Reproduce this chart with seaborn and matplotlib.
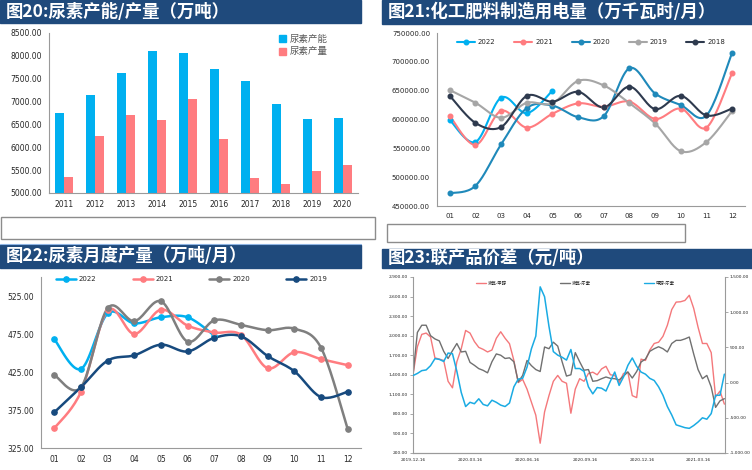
import matplotlib
matplotlib.use('Agg')
import matplotlib.pyplot as plt
import matplotlib.patches as mpatches
from matplotlib.lines import Line2D
from matplotlib.ticker import FuncFormatter
import matplotlib.dates as mdates
import seaborn as sns
import pandas as pd
import numpy as np

# ---- 数据 ----
years = ['2011', '2012', '2013', '2014', '2015', '2016', '2017', '2018', '2019', '2020']
capacity = [6740, 7140, 7630, 8100, 8065, 7705, 7455, 6950, 6615, 6630]
output = [5340, 6255, 6705, 6595, 7055, 6190, 5335, 5205, 5475, 5620]

months = ['01', '02', '03', '04', '05', '06', '07', '08', '09', '10', '11', '12']
power_2022 = [599000, 561000, 638000, 611000, 650000]
power_2021 = [606000, 556000, 615000, 586000, 610000, 628000, 622000, 631000, 601000, 619000, 586000, 681000]
power_2020 = [472000, 485000, 557000, 620000, 624000, 604000, 606000, 689000, 645000, 625000, 607000, 716000]
power_2019 = [651000, 629000, 603000, 629000, 628000, 667000, 659000, 628000, 593000, 545000, 561000, 615000]
power_2018 = [641000, 594000, 587000, 641000, 631000, 648000, 621000, 657000, 618000, 641000, 607000, 619000]

urea_2022 = [468, 429, 502, 489, 497, 497, 473]
urea_2021 = [351, 399, 506, 475, 507, 486, 477, 474, 430, 451, 442, 434]
urea_2020 = [421, 405, 509, 492, 518, 465, 493, 487, 480, 482, 457, 350]
urea_2019 = [372, 405, 440, 447, 461, 452, 470, 472, 446, 426, 392, 399]

# 周度数据，从 2019-12-16 起
spread_dates = pd.date_range('2019-12-16', periods=72, freq='7D')
nh3_meoh = [1400, 1830, 2020, 2040, 1980, 1660, 1640, 1620, 1300, 1200,
            1600, 1800, 2080, 2040, 1910, 1820, 1790, 1750, 1780, 1960,
            2060, 1960, 1877, 1620, 1280, 1330, 1180, 980, 780, 350,
            830, 1080, 1300, 1390, 1300, 1270, 810, 1180, 1340, 1300,
            1420, 1440, 1400, 1490, 1530, 1400, 1390, 1280, 1420, 1440,
            1080, 1050, 1640, 1620, 1780, 1880, 1900, 1990, 2160, 2400,
            2515, 2520, 2540, 2620, 2420, 2130, 1880, 1880, 1740, 1060,
            1150, 950]
nh3_urea = [1400, 2050, 2160, 2160, 2000, 1950, 1920, 1760, 1650, 1770,
            1880, 1750, 1760, 1590, 1545, 1494, 1468, 1430, 1600, 1720,
            1700, 1650, 1660, 1600, 1289, 1390, 1620, 1540, 1480, 1450,
            1826, 1800, 1900, 1840, 1600, 1380, 1400, 1740, 1600, 1470,
            1480, 1300, 1310, 1340, 1366, 1345, 1340, 1320, 1380, 1443,
            1350, 1450, 1596, 1640, 1760, 1800, 1830, 1800, 1750, 1880,
            1928, 1928, 1950, 1979, 1720, 1480, 1340, 1390, 1212, 900,
            1000, 1033]
meoh_urea = [100, 130, 170, 180, 240, 340, 330, 300, 420, 410,
             160, -140, -340, -280, -300, -230, -310, -330, -250, -280,
             -320, -340, -290, -60, 50, 60, 220, 480, 660, 1360,
             1220, 800, 440, 390, 360, 320, 470, 200, 200, 160,
             -60, -160, -70, -80, -120, 20, 150, -40, 80, 245,
             350, 230, 150, 120, 60, 30, -60, -180, -340, -460,
             -600, -620, -640, -650, -610, -560, -500, -520, -440, -180,
             -180, 120]

# ---- 样式 ----
W, H = 752, 470
HEAD = '#1F4A7C'
CYAN = '#00B0F0'
SALMON = '#FF7C80'
SPINE = '#9A9A9A'

sns.set_style('white')
plt.rcParams['font.family'] = ['DejaVu Sans', 'Noto Sans CJK SC']
plt.rcParams['axes.unicode_minus'] = False
CJK = ['Noto Sans CJK SC', 'DejaVu Sans']

fig = plt.figure(figsize=(W / 100, H / 100), dpi=100)


def box_axes(x0, y0, x1, y1):
    return fig.add_axes([x0 / W, 1 - y1 / H, (x1 - x0) / W, (y1 - y0) / H])


def header(x0, y0, x1, y1, text):
    fig.patches.append(mpatches.Rectangle((x0 / W, 1 - y1 / H), (x1 - x0) / W, (y1 - y0) / H,
                                          transform=fig.transFigure, color=HEAD, zorder=0))
    fig.text((x0 + 6) / W, 1 - (y0 + y1) / 2 / H, text, color='white', fontsize=12.5,
             fontweight='bold', va='center', ha='left', family=CJK)


def empty_box(x0, y0, x1, y1):
    fig.patches.append(mpatches.Rectangle((x0 / W, 1 - y1 / H), (x1 - x0) / W, (y1 - y0) / H,
                                          transform=fig.transFigure, fill=False,
                                          edgecolor='#8C8C8C', lw=1.0, zorder=0))


def style_axes(ax, right=False):
    for s in ['top', 'right']:
        ax.spines[s].set_visible(False)
    for s in ['left', 'bottom']:
        ax.spines[s].set_color(SPINE)
        ax.spines[s].set_linewidth(0.8)
    ax.tick_params(axis='both', which='both', color=SPINE, width=0.8, direction='out')


def category_ticks(ax, n, fs):
    ax.set_xlim(-0.5, n - 0.5)
    ax.set_xticks(range(n))
    ax.set_xticks(np.arange(-0.5, n, 1), minor=True)
    ax.tick_params(axis='x', which='major', length=0, labelsize=fs, pad=5)
    ax.tick_params(axis='x', which='minor', length=3)


def smooth(y, n=20):
    # 平滑曲线（Excel 风格的三次贝塞尔连接）
    p = np.column_stack([np.arange(len(y), dtype=float), np.asarray(y, float)])
    ext = np.vstack([p[0], p, p[-1]])
    t = np.linspace(0, 1, n)[:, None]
    out = []
    for i in range(len(p) - 1):
        p0, p1, p2, p3 = ext[i], ext[i + 1], ext[i + 2], ext[i + 3]
        b1 = p1 + (p2 - p0) / 6
        b2 = p2 - (p3 - p1) / 6
        seg = (1 - t) ** 3 * p1 + 3 * (1 - t) ** 2 * t * b1 + 3 * (1 - t) * t ** 2 * b2 + t ** 3 * p2
        out.append(seg if i == 0 else seg[1:])
    return np.vstack(out)


def smooth_line(ax, y, color, lw, ms, label):
    c = smooth(y)
    sns.lineplot(x=c[:, 0], y=c[:, 1], ax=ax, color=color, lw=lw, sort=False, estimator=None)
    ax.plot(np.arange(len(y)), y, 'o', color=color, ms=ms, zorder=3)
    return Line2D([], [], color=color, lw=lw, marker='o', ms=ms, label=label)


# ---- 标题栏与空框 ----
header(0, 0, 361, 23, '图20:尿素产能/产量（万吨）')
header(382, 0, 752, 24, '图21:化工肥料制造用电量（万千瓦时/月）')
header(0, 245, 361, 268, '图22:尿素月度产量（万吨/月）')
header(382, 249, 752, 268, '图23:联产品价差（元/吨）')
fig.add_artist(Line2D([0, 361 / W], [1 - 244 / H, 1 - 244 / H], color='#8EB4E3', lw=0.8,
                      transform=fig.transFigure))
empty_box(0.5, 217, 375, 239)
empty_box(387, 224, 685, 242)

# ---- 图20 ----
ax1 = box_axes(49, 33, 358, 193)
df1 = pd.DataFrame({'year': years * 2, 'value': capacity + output,
                    'kind': ['尿素产能'] * len(years) + ['尿素产量'] * len(years)})
sns.barplot(data=df1, x='year', y='value', hue='kind', palette=[CYAN, SALMON], width=0.58,
            gap=0, saturation=1, linewidth=0, ax=ax1, legend=False)
ax1.set_ylim(5000, 8500)
ax1.set_yticks(np.arange(5000, 8501, 500))
ax1.yaxis.set_major_formatter(FuncFormatter(lambda v, p: f'{v:.2f}'))
style_axes(ax1)
category_ticks(ax1, len(years), 5.5)
ax1.tick_params(axis='y', labelsize=5.5, length=3, pad=2)
ax1.set_xlabel('')
ax1.set_ylabel('')
h1 = [mpatches.Patch(color=CYAN, label='尿素产能'), mpatches.Patch(color=SALMON, label='尿素产量')]
ax1.legend(handles=h1, loc='upper right', bbox_to_anchor=(0.93, 1.04), frameon=False,
           fontsize=6.8, handlelength=0.8, handleheight=0.8, handletextpad=0.4,
           labelspacing=0.35, labelcolor='#595959', prop={'family': CJK, 'size': 6.8})

# ---- 图21 ----
ax2 = box_axes(437, 33, 745, 206)
h2 = []
for y, c, lab in [(power_2022, CYAN, '2022'), (power_2021, SALMON, '2021'),
                  (power_2020, '#1F89BA', '2020'), (power_2019, '#A6A6A6', '2019'),
                  (power_2018, '#2E3A4E', '2018')]:
    h2.append(smooth_line(ax2, y, c, 1.5, 3.3, lab))
ax2.set_ylim(450000, 750000)
ax2.set_yticks(np.arange(450000, 750001, 50000))
ax2.yaxis.set_major_formatter(FuncFormatter(lambda v, p: f'{v:.2f}'))
style_axes(ax2)
category_ticks(ax2, 12, 5)
ax2.set_xticklabels(months)
ax2.tick_params(axis='y', labelsize=5, length=3, pad=2)
ax2.legend(handles=h2, loc='upper center', bbox_to_anchor=(0.5, 1.0), ncol=5, frameon=False,
           fontsize=5, handlelength=2.6, handletextpad=0.4, columnspacing=2.7)

# ---- 图22 ----
ax3 = box_axes(41, 277, 361, 448)
h3 = []
for y, c, lab in [(urea_2022, CYAN, '2022'), (urea_2021, SALMON, '2021'),
                  (urea_2020, '#7F7F7F', '2020'), (urea_2019, '#174A7E', '2019')]:
    h3.append(smooth_line(ax3, y, c, 1.8, 3.8, lab))
ax3.set_ylim(325, 550)
ax3.set_yticks(np.arange(325, 551, 50))
ax3.yaxis.set_major_formatter(FuncFormatter(lambda v, p: f'{v:.2f}'))
style_axes(ax3)
category_ticks(ax3, 12, 5.5)
ax3.set_xticklabels(months)
ax3.tick_params(axis='y', labelsize=5.5, length=3, pad=2)
ax3.legend(handles=h3, loc='upper center', bbox_to_anchor=(0.47, 1.04), ncol=4, frameon=False,
           fontsize=5, handlelength=2.9, handletextpad=0.4, columnspacing=5.2)

# ---- 图23 ----
ax4 = box_axes(413, 277, 725, 453)
df4 = pd.DataFrame({'date': spread_dates, 'a': nh3_meoh, 'b': nh3_urea, 'c': meoh_urea})
sns.lineplot(data=df4, x='date', y='a', ax=ax4, color='#F4787B', lw=1.0)
sns.lineplot(data=df4, x='date', y='b', ax=ax4, color='#707070', lw=1.0)
ax4r = ax4.twinx()
sns.lineplot(data=df4, x='date', y='c', ax=ax4r, color='#1AABE3', lw=1.1)
ax4.set_xlim(pd.Timestamp('2019-12-16'), pd.Timestamp('2021-04-27'))
ax4.set_ylim(200, 2900)
ax4.set_yticks(np.arange(200, 2901, 300))
ax4r.set_ylim(-1000, 1500)
ax4r.set_yticks(np.arange(-1000, 1501, 500))
ax4.yaxis.set_major_formatter(FuncFormatter(lambda v, p: f'{v:,.2f}'))
ax4r.yaxis.set_major_formatter(FuncFormatter(lambda v, p: f'{v:,.2f}'))
tick_dates = pd.to_datetime(['2019-12-16', '2020-03-16', '2020-06-16', '2020-09-16',
                             '2020-12-16', '2021-03-16'])
ax4.set_xticks(tick_dates)
ax4.xaxis.set_major_formatter(mdates.DateFormatter('%Y-%m-%d'))
for a in (ax4, ax4r):
    a.set_xlabel('')
    a.set_ylabel('')
    a.spines['top'].set_visible(False)
    for s in ['left', 'right', 'bottom']:
        a.spines[s].set_color(SPINE)
        a.spines[s].set_linewidth(0.8)
    a.tick_params(axis='both', which='both', color=SPINE, width=0.6, length=2,
                  labelsize=3.2, pad=1.5, direction='out')
ax4.spines['right'].set_visible(False)
ax4r.spines['left'].set_visible(False)
h4 = [Line2D([], [], color='#F4787B', lw=1.0, label='液氨-甲醇'),
      Line2D([], [], color='#707070', lw=1.0, label='液氨-尿素'),
      Line2D([], [], color='#1AABE3', lw=1.0, label='甲醇-尿素')]
ax4.legend(handles=h4, loc='upper center', bbox_to_anchor=(0.52, 1.0), ncol=3, frameon=False,
           handlelength=2.2, handletextpad=0.4, columnspacing=12,
           prop={'family': CJK, 'size': 3.2})

fig.savefig('out.png', dpi=100)
